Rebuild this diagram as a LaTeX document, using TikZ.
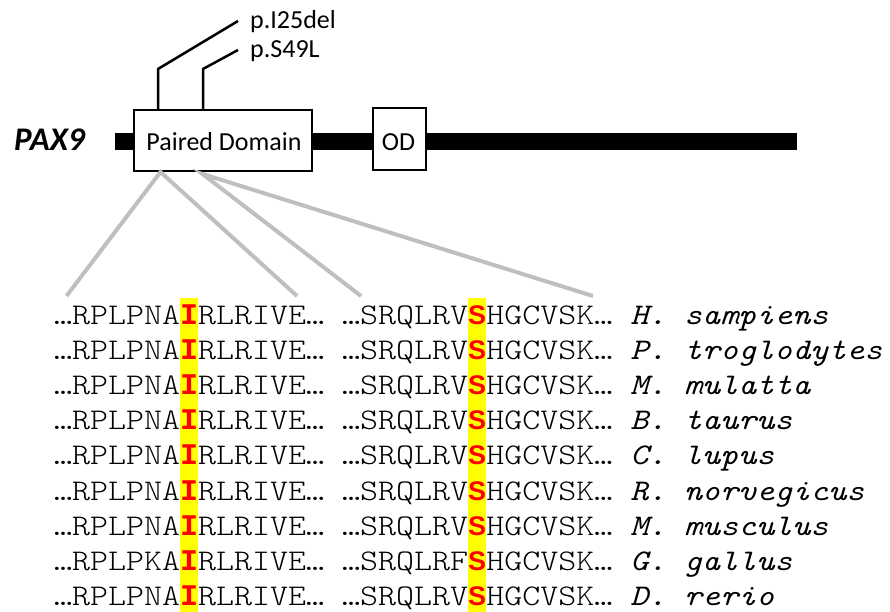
\documentclass[tikz,border=0pt]{standalone}
\usepackage{fontspec}
\setmainfont{Carlito}
\newfontfamily\seqmono{lmmonolt10-regular.otf}[FakeStretch=1.143, ItalicFont=lmmono10-italic.otf, BoldFont=lmmonolt10-regular.otf]
\newfontfamily\seqlib{Liberation Mono}
\newfontfamily\seqsans{Liberation Sans}
\definecolor{linkgray}{HTML}{BFBFBF}
\definecolor{hlyellow}{HTML}{FFFF00}
\definecolor{hlred}{HTML}{FF0000}
\newcommand\hlI{\makebox[18pt][c]{\seqlib\fontsize{30}{35}\selectfont\bfseries\color{hlred}I}}
\newcommand\hlS{\makebox[18pt][c]{\seqsans\fontsize{27}{35}\selectfont\bfseries\color{hlred}S}}
\frenchspacing
\tikzset{
  lbl/.style={inner sep=0pt, font=\fontsize{26}{30}\selectfont},
  seqrow/.style={inner sep=0pt, anchor=base west, font=\seqmono\fontsize{30}{35}\selectfont},
  domainbox/.style={draw=black, line width=2pt, fill=white},
  mutline/.style={draw=black, line width=2.5pt},
  linkline/.style={draw=linkgray, line width=4pt},
  hlcol/.style={fill=hlyellow}
}
\begin{document}
\begin{tikzpicture}[x=1pt,y=-1pt]
\useasboundingbox (0,0) rectangle (890,612);
% yellow highlight columns
\fill[hlcol] (180,298) rectangle (198.2,612);
\fill[hlcol] (468,298) rectangle (486.2,612);
% gene bar
\fill[black] (115,133) rectangle (797,150);
% domains
\node[domainbox, minimum width=178pt, minimum height=61pt, inner sep=0pt, anchor=north west] (pd) at (133,109) {};
\node[lbl, anchor=base] (pdlabel) at (224,151) {Paired Domain};
\node[domainbox, minimum width=53pt, minimum height=62pt, inner sep=0pt, anchor=north west] (od) at (372,107) {};
\node[lbl, anchor=base] (odlabel) at (398.5,150.5) {OD};
\node[inner sep=0pt, anchor=base west, font=\fontsize{33}{36}\selectfont\bfseries\itshape] (pax) at (14,151) {PAX9};
% mutations
\coordinate (m1b) at (158,109);
\coordinate (m1k) at (158,69);
\coordinate (m1e) at (238,21);
\coordinate (m2b) at (203,109);
\coordinate (m2k) at (203,69);
\coordinate (m2e) at (238,50);
\draw[mutline] (m1b) -- (m1k) -- (m1e);
\draw[mutline] (m2b) -- (m2k) -- (m2e);
\node[lbl, anchor=base west] (mutA) at (250,29) {p.I25del};
\node[lbl, anchor=base west] (mutB) at (250,58) {p.S49L};
% links to alignment
\coordinate (apA) at (160.5,172);
\coordinate (apB) at (202.5,174);
\coordinate (eA1) at (66.5,296);
\coordinate (eA2) at (297,296);
\coordinate (eB1) at (361,296);
\coordinate (eB2) at (593,296);
\draw[linkline] (eA1) -- (apA) -- (eA2);
\draw[linkline] (eB1) -- (apB) -- (eB2);
% alignment rows
\node[seqrow] (r1) at (54,324.0) {…RPLPNA\hlI RLRIVE… …SRQLRV\hlS HGCVSK… \textit{H. sampiens}};
\node[seqrow] (r2) at (54,359.2) {…RPLPNA\hlI RLRIVE… …SRQLRV\hlS HGCVSK… \textit{P. troglodytes}};
\node[seqrow] (r3) at (54,394.4) {…RPLPNA\hlI RLRIVE… …SRQLRV\hlS HGCVSK… \textit{M. mulatta}};
\node[seqrow] (r4) at (54,429.6) {…RPLPNA\hlI RLRIVE… …SRQLRV\hlS HGCVSK… \textit{B. taurus}};
\node[seqrow] (r5) at (54,464.8) {…RPLPNA\hlI RLRIVE… …SRQLRV\hlS HGCVSK… \textit{C. lupus}};
\node[seqrow] (r6) at (54,500.0) {…RPLPNA\hlI RLRIVE… …SRQLRV\hlS HGCVSK… \textit{R. norvegicus}};
\node[seqrow] (r7) at (54,535.2) {…RPLPNA\hlI RLRIVE… …SRQLRV\hlS HGCVSK… \textit{M. musculus}};
\node[seqrow] (r8) at (54,570.4) {…RPLPKA\hlI RLRIVE… …SRQLRF\hlS HGCVSK… \textit{G. gallus}};
\node[seqrow] (r9) at (54,605.6) {…RPLPNA\hlI RLRIVE… …SRQLRV\hlS HGCVSK… \textit{D. rerio}};
\end{tikzpicture}
\end{document}
